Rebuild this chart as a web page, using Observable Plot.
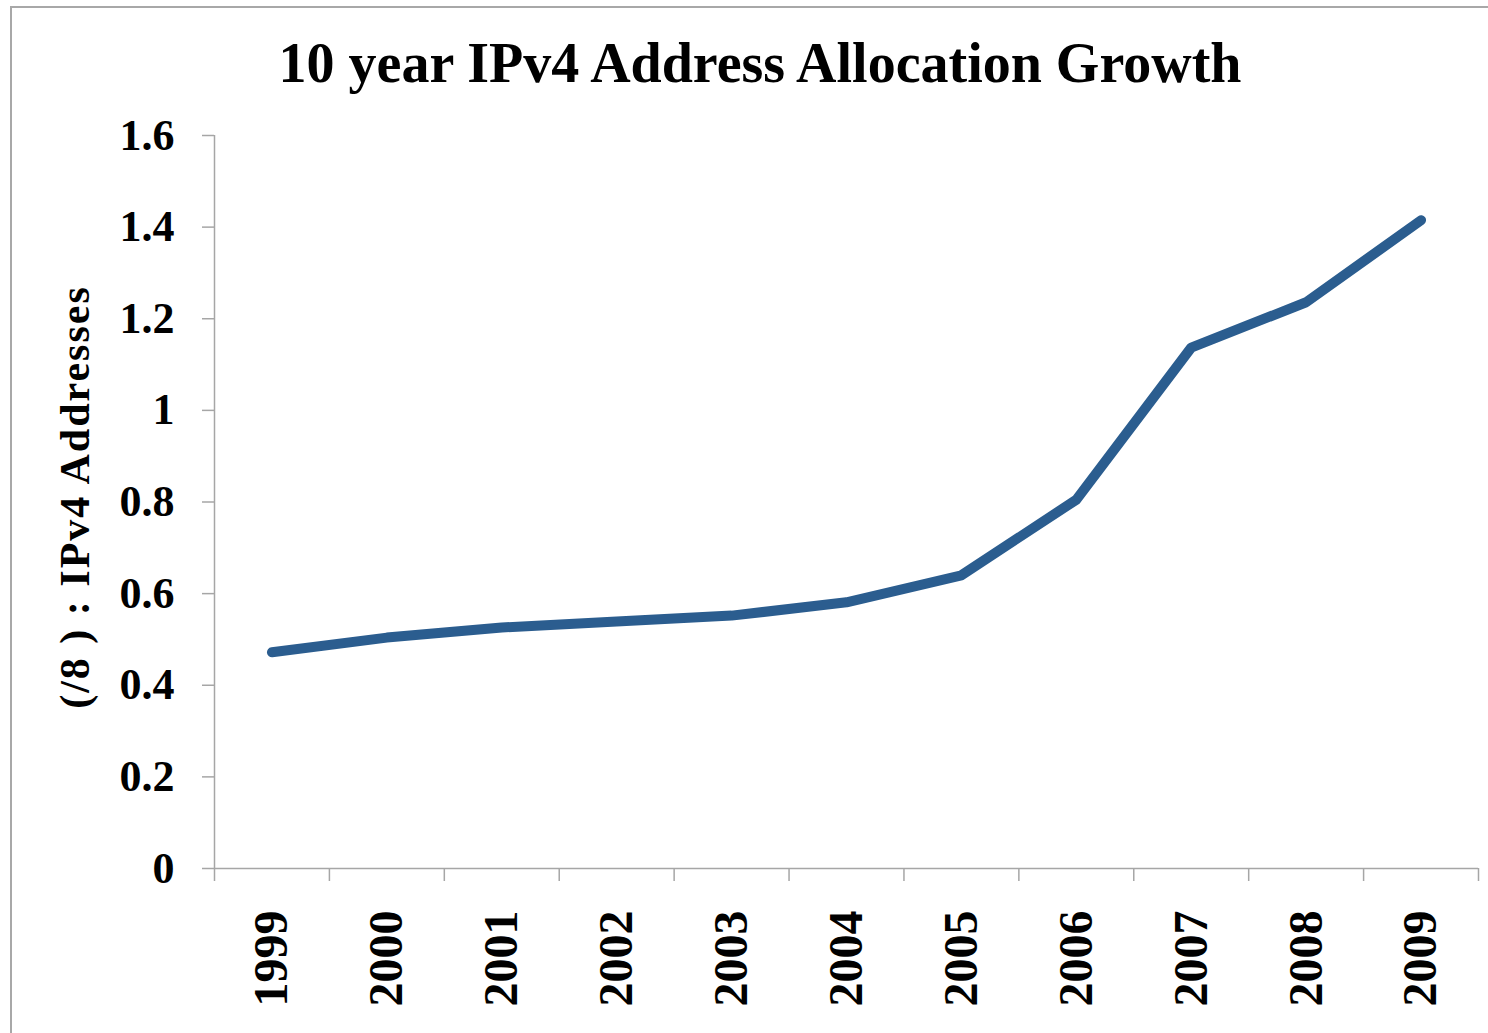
<!DOCTYPE html>
<html>
<head>
<meta charset="utf-8">
<script src="https://cdn.jsdelivr.net/npm/d3@7"></script>
<script src="https://cdn.jsdelivr.net/npm/@observablehq/plot@0.6"></script>
<style>
  html, body { margin: 0; padding: 0; background: #fff; }
  #wrap { position: relative; width: 1488px; height: 1033px; overflow: hidden; background: #fff; }
  #frame { position: absolute; left: 10px; top: 6px; width: 1600px; height: 1200px; border: 2px solid #a8a8a8; box-sizing: border-box; }
  #title { position: absolute; left: 0; width: 1520px; top: 31px; text-align: center; font-family: "Liberation Serif", serif; font-weight: bold; font-size: 56px; color: #000; white-space: nowrap; }
  #ylabel { position: absolute; left: 75px; top: 497px; transform: translate(-50%, -50%) rotate(-90deg); font-family: "Liberation Serif", serif; font-weight: bold; font-size: 42px; letter-spacing: 2px; color: #000; white-space: nowrap; }
  #chart { position: absolute; left: 0; top: 100px; }
</style>
</head>
<body>
<div id="wrap">
  <div id="frame"></div>
  <div id="title">10 year IPv4 Address Allocation Growth</div>
  <div id="ylabel">(/8 ) : IPv4 Addresses</div>
  <div id="chart"></div>
</div>
<script>
const years = [1999, 2000, 2001, 2002, 2003, 2004, 2005, 2006, 2007, 2008, 2009];
const allocations = [0.472, 0.504, 0.526, 0.539, 0.552, 0.581, 0.640, 0.805, 1.137, 1.236, 1.415];
const yTicks = [0, 0.2, 0.4, 0.6, 0.8, 1.0, 1.2, 1.4, 1.6];
const yTickLabels = ["0", "0.2", "0.4", "0.6", "0.8", "1", "1.2", "1.4", "1.6"];
const boundaries = years.map(y => y - 0.5).concat([years[years.length - 1] + 0.5]);

const data = years.map((y, i) => ({year: y, value: allocations[i]}));
const axisGray = "#a6a6a6";
const font = "Liberation Serif, serif";

const chart = Plot.plot({
  width: 1488,
  height: 933,
  marginTop: 35,
  marginBottom: 165,
  marginLeft: 214,
  marginRight: 10,
  style: {fontFamily: font, fontWeight: "bold", color: "#000", background: "transparent"},
  x: {type: "linear", domain: [boundaries[0], boundaries[boundaries.length - 1]]},
  y: {domain: [0, 1.6]},
  marks: [
    Plot.ruleX([boundaries[0]], {stroke: axisGray, strokeWidth: 1.5}),
    Plot.ruleY([0], {stroke: axisGray, strokeWidth: 1.5}),
    Plot.axisY({
      ticks: yTicks,
      tickFormat: (d) => yTickLabels[yTicks.indexOf(d)] ?? String(d),
      tickSize: 12,
      tickPadding: 28,
      stroke: axisGray,
      strokeWidth: 1.5,
      fill: "#000",
      fontSize: 44,
      fontWeight: "bold",
      fontFamily: font,
      label: null
    }),
    Plot.axisX({
      ticks: boundaries,
      tickFormat: () => "",
      tickSize: 13,
      stroke: axisGray,
      strokeWidth: 1.5,
      label: null
    }),
    Plot.axisX({
      ticks: years,
      tickFormat: (d) => String(d),
      tickSize: 0,
      tickPadding: 42,
      tickRotate: -90,
      fill: "#000",
      fontSize: 48,
      fontWeight: "bold",
      fontFamily: font,
      label: null
    }),
    Plot.line(data, {x: "year", y: "value", stroke: "#2b5d8f", strokeWidth: 10, strokeLinecap: "round", strokeLinejoin: "round"})
  ]
});
document.getElementById("chart").appendChild(chart);
</script>
</body>
</html>
